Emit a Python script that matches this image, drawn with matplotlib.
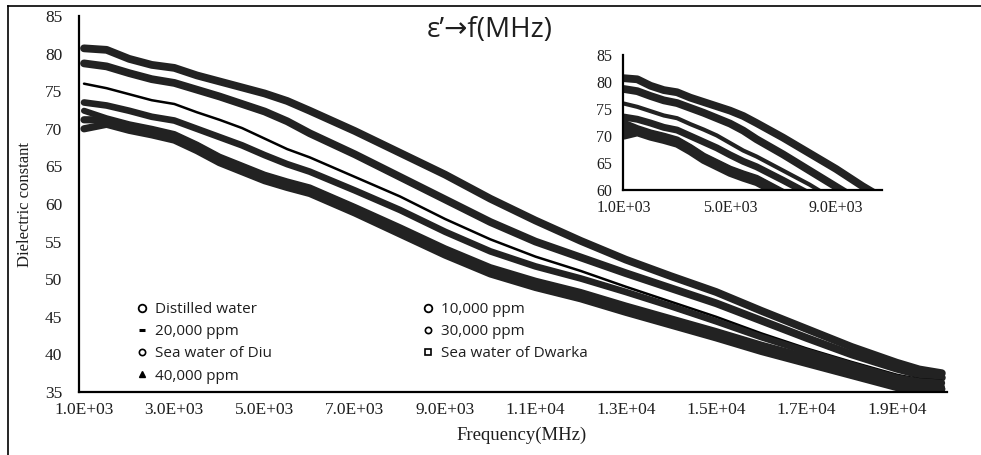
import matplotlib
matplotlib.use("Agg")
import matplotlib.pyplot as plt
from matplotlib.lines import Line2D

# ---------------- data ----------------
freq_mhz = [1000, 1500, 2000, 2500, 3000, 3500, 4000, 4500, 5000, 5500, 6000,
            7000, 8000, 9000, 10000, 11000, 12000, 13000, 14000, 15000, 16000,
            17000, 18000, 19000, 19500, 20000]

distilled = [80.7, 80.5, 79.3, 78.5, 78.1, 77.1, 76.3, 75.5, 74.7, 73.7, 72.4,
             69.7, 66.8, 63.9, 60.7, 57.8, 55.1, 52.6, 50.4, 48.3, 45.8,
             43.4, 41.0, 38.9, 38.0, 37.5]
ppm_10000 = [78.7, 78.3, 77.4, 76.6, 76.1, 75.2, 74.3, 73.3, 72.3, 71.0, 69.4,
             66.6, 63.6, 60.6, 57.6, 55.0, 52.9, 50.8, 48.8, 46.8, 44.5,
             42.2, 40.0, 38.1, 37.3, 36.9]
ppm_20000 = [76.0, 75.4, 74.6, 73.8, 73.3, 72.2, 71.2, 70.1, 68.7, 67.3, 66.2,
             63.6, 61.0, 58.0, 55.3, 53.0, 51.1, 49.0, 47.0, 45.0, 42.8,
             40.8, 39.0, 37.3, 36.7, 36.5]
ppm_30000 = [73.5, 73.1, 72.4, 71.6, 71.1, 70.0, 68.9, 67.8, 66.5, 65.3, 64.3,
             61.8, 59.2, 56.3, 53.7, 51.7, 50.1, 48.3, 46.4, 44.4, 42.3,
             40.4, 38.6, 36.9, 36.4, 36.2]
sea_diu = [72.4, 71.4, 70.6, 70.0, 69.3, 67.9, 66.3, 65.1, 63.9, 63.0, 62.2,
           59.6, 56.9, 54.1, 51.6, 49.8, 48.3, 46.5, 44.8, 43.1, 41.3,
           39.7, 38.1, 36.5, 35.9, 35.7]
sea_dwarka = [70.0, 70.6, 69.8, 69.2, 68.5, 67.1, 65.5, 64.3, 63.1, 62.2, 61.4,
              58.8, 56.0, 53.2, 50.7, 48.9, 47.4, 45.6, 43.9, 42.2, 40.4,
              38.8, 37.2, 35.6, 35.0, 34.9]
ppm_40000 = [71.2, 71.2, 70.4, 69.8, 69.1, 67.7, 66.1, 64.9, 63.7, 62.8, 62.0,
             59.4, 56.6, 53.8, 51.3, 49.5, 48.0, 46.2, 44.5, 42.8, 41.0,
             39.4, 37.8, 36.2, 35.6, 35.4]

series_names = ["Distilled water", "10,000 ppm", "20,000 ppm", "30,000 ppm",
                "Sea water of Diu", "Sea water of Dwarka", "40,000 ppm"]

main_xticks = [1000, 3000, 5000, 7000, 9000, 11000, 13000, 15000, 17000, 19000]
main_xticklabels = ["1.0E+03", "3.0E+03", "5.0E+03", "7.0E+03", "9.0E+03",
                    "1.1E+04", "1.3E+04", "1.5E+04", "1.7E+04", "1.9E+04"]
main_yticks = [35, 40, 45, 50, 55, 60, 65, 70, 75, 80, 85]
inset_xticks = [1000, 5000, 9000]
inset_xticklabels = ["1.0E+03", "5.0E+03", "9.0E+03"]
inset_yticks = [60, 65, 70, 75, 80, 85]

title_text = "\u03b5\u2019\u2192f(MHz)"
xlabel_text = "Frequency(MHz)"
ylabel_text = "Dielectric constant"

# ---------------- figure ----------------
W, H = 981, 455
fig = plt.figure(figsize=(W / 100, H / 100), dpi=100)
fig.patch.set_facecolor("white")

serif = ["Liberation Serif", "DejaVu Serif"]
sans = ["Open Sans", "DejaVu Sans"]
text_color = "#1e1e1e"

def px_axes(l, t, r, b):
    return [l / W, 1 - b / H, (r - l) / W, (b - t) / H]

ax = fig.add_axes(px_axes(79, 16, 947, 392))
ins = fig.add_axes(px_axes(623, 55, 882, 190))

all_series = [distilled, ppm_10000, ppm_20000, ppm_30000, sea_diu, sea_dwarka, ppm_40000]
band_color = "#222222"
main_lw = [5.6, 5.6, 1.8, 4.8, 4.4, 5.2, 5.2]
inset_lw = [5.6, 5.6, 3.0, 5.0, 4.8, 5.2, 5.2]

for ys, name, lw in zip(all_series, series_names, main_lw):
    ax.plot(freq_mhz, ys, color=band_color if lw > 2 else "black", lw=lw,
            solid_capstyle="round", solid_joinstyle="round", label=name)
for ys, lw in zip(all_series, inset_lw):
    ins.plot(freq_mhz, ys, color=band_color, lw=lw,
             solid_capstyle="round", solid_joinstyle="round")

def style_axes(a, xticks, xlabels, yticks, xlim, ylim, ypad, xpad, fs):
    a.set_xlim(*xlim)
    a.set_ylim(*ylim)
    a.set_xticks(xticks)
    a.set_xticklabels(xlabels)
    a.set_yticks(yticks)
    a.set_yticklabels([str(v) for v in yticks])
    for s in ("top", "right"):
        a.spines[s].set_visible(False)
    for s in ("left", "bottom"):
        a.spines[s].set_linewidth(1.6)
        a.spines[s].set_color("black")
    a.tick_params(axis="both", length=0)
    a.tick_params(axis="y", pad=ypad)
    a.tick_params(axis="x", pad=xpad)
    for lab in a.get_xticklabels() + a.get_yticklabels():
        lab.set_fontfamily(serif)
        lab.set_fontsize(fs)
        lab.set_color(text_color)
    a.set_facecolor("white")

style_axes(ax, main_xticks, main_xticklabels, main_yticks,
           (889, 20114), (35, 85), ypad=12, xpad=7.5, fs=12.5)
style_axes(ins, inset_xticks, inset_xticklabels, inset_yticks,
           (960, 10734), (60, 85), ypad=8, xpad=7.5, fs=11.5)

ax.set_xlabel(xlabel_text, fontfamily=serif, fontsize=13.5, color=text_color, va="center")
ax.xaxis.set_label_coords((522 - 79) / 868, (392 - 435) / 376)
ax.set_ylabel(ylabel_text, fontfamily=serif, fontsize=12, color=text_color, va="center")
ax.yaxis.set_label_coords((25 - 79) / 868, 0.5)

fig.text(490 / W, 1 - 30 / H, title_text, ha="center", va="center",
         fontsize=20, fontfamily=sans, color=text_color)

# ---------------- legend (two columns, as in the reference) ----------------
marker_styles = {
    "Distilled water": dict(marker="o", markersize=5.5, markerfacecolor="white", markeredgewidth=1.3),
    "10,000 ppm": dict(marker="o", markersize=5.5, markerfacecolor="white", markeredgewidth=1.3),
    "20,000 ppm": dict(marker="_", markersize=4.5, markeredgewidth=2.2),
    "30,000 ppm": dict(marker="o", markersize=4.5, markerfacecolor="white", markeredgewidth=1.2),
    "Sea water of Diu": dict(marker="o", markersize=4.5, markerfacecolor="white", markeredgewidth=1.2),
    "Sea water of Dwarka": dict(marker="s", markersize=5, markerfacecolor="white", markeredgewidth=1.2),
    "40,000 ppm": dict(marker="^", markersize=4.5, markerfacecolor="black", markeredgewidth=1.0),
}

def proxy(name):
    return Line2D([], [], linestyle="none", color="black", markeredgecolor="black",
                  **marker_styles[name])

col1 = ["Distilled water", "20,000 ppm", "Sea water of Diu", "40,000 ppm"]
col2 = ["10,000 ppm", "30,000 ppm", "Sea water of Dwarka"]
leg_kw = dict(loc="upper left", bbox_transform=fig.transFigure, frameon=False,
              borderpad=0, borderaxespad=0, handlelength=0.7, handletextpad=0.45,
              labelspacing=0.47, prop={"family": sans, "size": 11})
leg1 = ax.legend([proxy(n) for n in col1], col1,
                 bbox_to_anchor=(137 / W, 1 - 302 / H), **leg_kw)
ax.add_artist(leg1)
leg2 = ax.legend([proxy(n) for n in col2], col2,
                 bbox_to_anchor=(423 / W, 1 - 302 / H), **leg_kw)
for lg in (leg1, leg2):
    for t in lg.get_texts():
        t.set_color(text_color)

# ---------------- outer frame ----------------
fig.add_artist(Line2D([8 / W, 8 / W], [0, 1 - 6 / H], transform=fig.transFigure,
                      color="black", lw=1.2))
fig.add_artist(Line2D([8 / W, 1], [1 - 6 / H, 1 - 6 / H], transform=fig.transFigure,
                      color="black", lw=1.2))

fig.savefig("out.png", dpi=100, facecolor="white")
